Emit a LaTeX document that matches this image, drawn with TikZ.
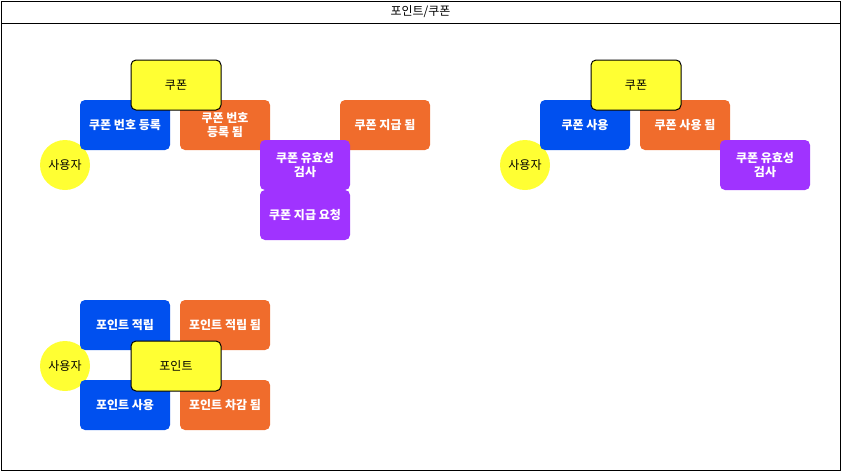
\documentclass[tikz,border=0pt]{standalone}
\usepackage{fontspec}
\setmainfont{Noto Sans CJK KR}
\definecolor{cblue}{HTML}{0050EF}
\definecolor{corange}{HTML}{F06C2C}
\definecolor{cpurple}{HTML}{A033FF}
\definecolor{cyellow}{HTML}{FFFF33}
\begin{document}
\begin{tikzpicture}[x=1pt,y=-1pt,
  box/.style={rectangle,rounded corners=5pt,minimum width=90pt,minimum height=50pt,inner sep=2pt,align=center,font=\fontsize{12}{14}\selectfont\bfseries,text=white},
  cmd/.style={box,fill=cblue},
  evt/.style={box,fill=corange},
  pol/.style={box,fill=cpurple},
  agg/.style={box,fill=cyellow,draw=black,line width=1pt,text=black,font=\fontsize{12}{14}\selectfont},
  actor/.style={circle,fill=cyellow,minimum size=50pt,inner sep=0pt,font=\fontsize{12}{14}\selectfont},
  ]
\useasboundingbox (0,0) rectangle (842,472);
\node[draw=black,line width=1pt,minimum width=839pt,minimum height=469pt,anchor=north west,inner sep=0pt] (frame) at (1,1) {};
\coordinate (tl) at (1,23);
\coordinate (tr) at (840,23);
\draw[line width=1pt] (tl) -- (tr);
\node[font=\fontsize{12}{14}\selectfont] (title) at (420.5,12) {포인트/쿠폰};

% coupon group left
\node[actor] (u1) at (65,165) {사용자};
\node[cmd] (c1) at (125,125) {쿠폰 번호 등록};
\node[evt] (e1) at (225,125) {쿠폰 번호\\등록 됨};
\node[evt] (e2) at (385,125) {쿠폰 지급 됨};
\node[pol] (p1) at (305,165) {쿠폰 유효성\\검사};
\node[pol] (p2) at (305,215) {쿠폰 지급 요청};
\node[agg] (a1) at (176,85) {쿠폰};

% coupon group right
\node[actor] (u2) at (525,165) {사용자};
\node[cmd] (c2) at (585,125) {쿠폰 사용};
\node[evt] (e3) at (685,125) {쿠폰 사용 됨};
\node[pol] (p3) at (765,165) {쿠폰 유효성\\검사};
\node[agg] (a2) at (636,85) {쿠폰};

% point group
\node[actor] (u3) at (65,366) {사용자};
\node[cmd] (c3) at (125,325) {포인트 적립};
\node[evt] (e4) at (225,325) {포인트 적립 됨};
\node[cmd] (c4) at (125,405) {포인트 사용};
\node[evt] (e5) at (225,405) {포인트 차감 됨};
\node[agg] (a3) at (176,366) {포인트};
\end{tikzpicture}
\end{document}
